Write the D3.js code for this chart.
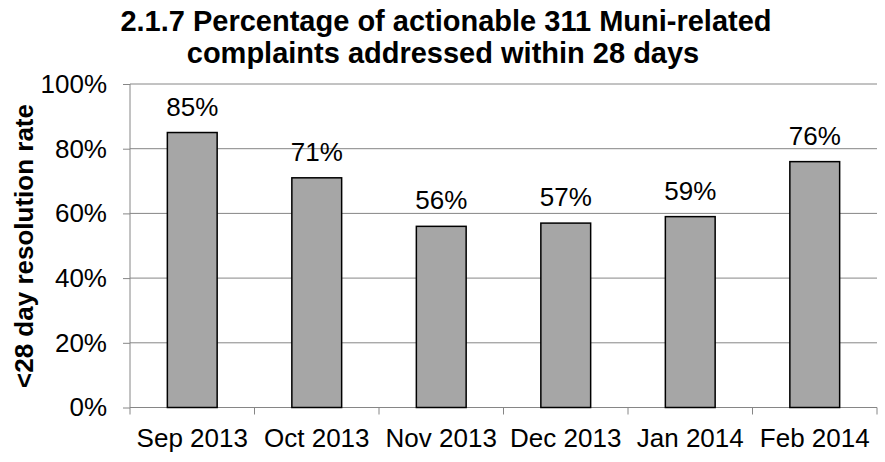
<!DOCTYPE html>
<html>
<head>
<meta charset="utf-8">
<script src="https://cdn.jsdelivr.net/npm/d3@7"></script>
<style>
  body { margin: 0; background: #fff; }
  svg { display: block; font-family: "Liberation Sans", Arial, sans-serif; }
  .grid line { stroke: #868686; stroke-width: 1; }
  .axis path, .axis line { stroke: #868686; stroke-width: 1; }
  .axis text { fill: #000; font-size: 26px; font-family: "Liberation Sans", Arial, sans-serif; }
</style>
</head>
<body>
<div id="chart-container"></div>
<script>
// Data.
const months = ["Sep 2013", "Oct 2013", "Nov 2013", "Dec 2013", "Jan 2014", "Feb 2014"];
const rates = [85, 71, 56, 57, 59, 76];
const yTicks = [0, 20, 40, 60, 80, 100];

const fWidth = 885, fHeight = 462;
const margin = { top: 84, right: 8, bottom: 54.5, left: 130 };
const width = fWidth - margin.left - margin.right,
  height = fHeight - margin.top - margin.bottom;

const svg = d3.select("#chart-container").append("svg")
  .attr("width", fWidth)
  .attr("height", fHeight);

// Title.
const title = svg.append("text")
  .attr("text-anchor", "middle")
  .attr("font-weight", "bold")
  .attr("font-size", "29px");
title.append("tspan").attr("x", 446).attr("y", 31).text("2.1.7 Percentage of actionable 311 Muni-related");
title.append("tspan").attr("x", 443).attr("y", 63).text("complaints addressed within 28 days");

const g = svg.append("g")
  .attr("transform", `translate(${ margin.left } ${ margin.top })`);

// Scales.
const xScale = d3.scaleBand()
  .domain(months)
  .range([0, width])
  .paddingInner(0.6)
  .paddingOuter(0.3);

const yScale = d3.scaleLinear()
  .domain([0, 100])
  .range([height, 0]);

// Gridlines.
g.append("g")
  .attr("class", "grid")
  .selectAll("line")
  .data(yTicks.filter(d => d > 0))
  .enter()
  .append("line")
    .attr("x1", 0)
    .attr("x2", width)
    .attr("y1", d => yScale(d))
    .attr("y2", d => yScale(d));

// Y axis.
g.append("g")
  .attr("class", "axis")
  .call(d3.axisLeft(yScale).tickValues(yTicks).tickSize(7).tickPadding(16).tickFormat(d => d + "%"))
  .call(a => a.select(".domain").attr("d", `M0,0V${ height }`));

// X axis with ticks between categories.
const xAxis = g.append("g")
  .attr("class", "axis")
  .attr("transform", `translate(0 ${ height })`)
  .call(d3.axisBottom(xScale).tickSize(0).tickPadding(21))
  .call(a => a.select(".domain").attr("d", `M0,0H${ width }`));

const step = xScale.step();
xAxis.selectAll(".sep")
  .data(d3.range(months.length + 1))
  .enter()
  .append("line")
    .attr("x1", i => i * step)
    .attr("x2", i => i * step)
    .attr("y1", 0)
    .attr("y2", 7)
    .attr("stroke", "#868686");

// Bars.
g.selectAll(".bar")
  .data(rates)
  .enter()
  .append("rect")
    .attr("class", "bar")
    .attr("x", (d, i) => xScale(months[i]))
    .attr("y", d => yScale(d))
    .attr("width", xScale.bandwidth())
    .attr("height", d => height - yScale(d))
    .attr("fill", "#a6a6a6")
    .attr("stroke", "#000")
    .attr("stroke-width", 1.5);

// Data labels.
g.selectAll(".label")
  .data(rates)
  .enter()
  .append("text")
    .attr("x", (d, i) => xScale(months[i]) + xScale.bandwidth() / 2)
    .attr("y", d => yScale(d) - 17)
    .attr("text-anchor", "middle")
    .attr("font-size", "26px")
    .text(d => d + "%");

// Y axis title.
svg.append("text")
  .attr("transform", `translate(33 246) rotate(-90)`)
  .attr("text-anchor", "middle")
  .attr("font-weight", "bold")
  .attr("font-size", "26px")
  .text("<28 day resolution rate");
</script>
</body>
</html>
